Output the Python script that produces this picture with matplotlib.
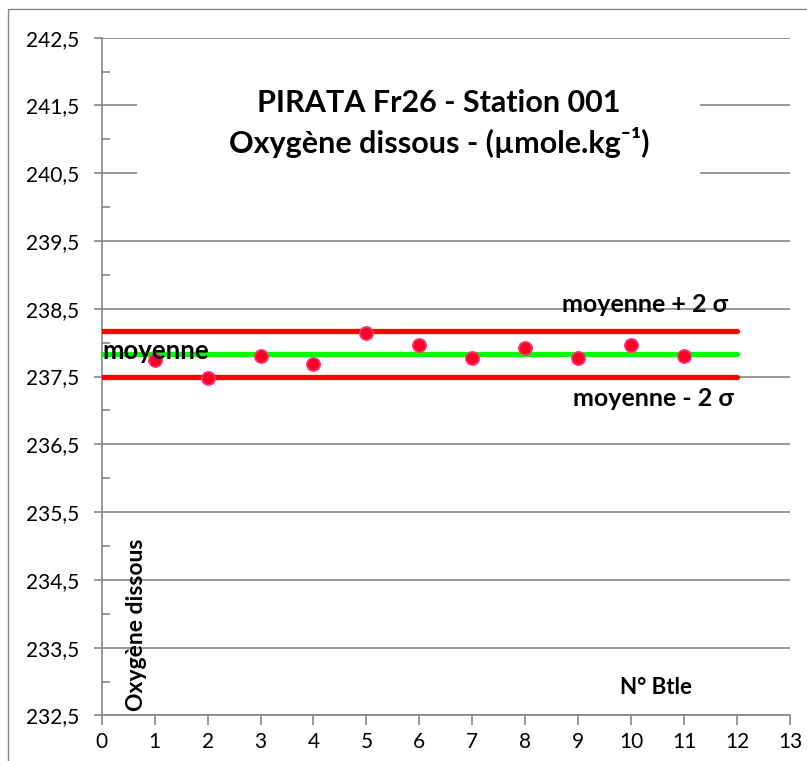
import matplotlib
matplotlib.use("Agg")
import matplotlib.pyplot as plt
from matplotlib.patches import Rectangle

# valeurs
btle = [1, 2, 3, 4, 5, 6, 7, 8, 9, 10, 11]
oxygene = [237.75, 237.48, 237.81, 237.69, 238.14, 237.96, 237.78, 237.92, 237.78, 237.96, 237.80]
moyenne = 237.83
plus_2s = 238.17
moins_2s = 237.49
x_lignes = [0, 12]

y_ticks = [232.5, 233.5, 234.5, 235.5, 236.5, 237.5, 238.5, 239.5, 240.5, 241.5, 242.5]
x_ticks = list(range(0, 14))

FAM = ['Lato', 'DejaVu Sans']
GRIS = '#868686'

fig = plt.figure(figsize=(8.07, 7.61), dpi=100)
ax = fig.add_axes([0.126, 0.0598, 0.9789 - 0.126, 0.9505 - 0.0598])

# cadre extérieur
fig.patches.append(Rectangle((8 / 807, -0.1), 1.2, (761 - 8.7) / 761 + 0.1,
                             transform=fig.transFigure, fill=False,
                             edgecolor=GRIS, linewidth=1.0))

ax.set_xlim(0, 13)
ax.set_ylim(232.5, 242.5)
ax.set_xticks(x_ticks)
ax.set_yticks(y_ticks)
ax.set_yticks([v + 0.5 for v in y_ticks[:-1]], minor=True)
ax.set_xticklabels([str(v) for v in x_ticks], family=FAM, fontsize=15)
ax.set_yticklabels([f"{v:.1f}".replace('.', ',') for v in y_ticks], family=FAM, fontsize=15)

ax.tick_params(axis='y', which='major', direction='out', length=6, width=1.2, color=GRIS, pad=10)
ax.tick_params(axis='y', which='minor', direction='in', length=6, width=1.2, color=GRIS)
ax.tick_params(axis='x', which='major', direction='out', length=7, width=1.2, color=GRIS, pad=5)

ax.grid(axis='y', which='major', color=GRIS, linewidth=1.2)
ax.set_axisbelow(True)
for s in ['top', 'right']:
    ax.spines[s].set_visible(False)
for s in ['left', 'bottom']:
    ax.spines[s].set_color(GRIS)
    ax.spines[s].set_linewidth(1.2)

# fond blanc du titre
ax.add_patch(Rectangle((0.67, 240.2), 11.3 - 0.67, 2.0, facecolor='white',
                       edgecolor='none', zorder=1.5))

ax.plot(x_lignes, [plus_2s, plus_2s], color='#FF0000', linewidth=3.8, solid_capstyle='round', zorder=3)
ax.plot(x_lignes, [moins_2s, moins_2s], color='#FF0000', linewidth=3.8, solid_capstyle='round', zorder=3)
ax.plot(x_lignes, [moyenne, moyenne], color='#00FF00', linewidth=3.8, solid_capstyle='round', zorder=3)
ax.plot(btle, oxygene, linestyle='none', marker='o', markersize=9.5,
        markerfacecolor='#FF0022', markeredgecolor='#FF3380', markeredgewidth=1.2, zorder=4)

ax.text(6.37, 241.53, "PIRATA Fr26 - Station 001", ha='center', va='center',
        family=FAM, fontweight='bold', fontsize=22, zorder=5)
ax.text(6.37, 240.95, "Oxygène dissous - (µmole.kg⁻¹)", ha='center', va='center',
        family=FAM, fontweight='bold', fontsize=22, zorder=5)

ax.text(0.02, 237.757, "moyenne", ha='left', va='baseline',
        family=FAM, fontweight='bold', fontsize=18.5, zorder=5)
ax.text(10.26, 238.46, "moyenne + 2 σ", ha='center', va='baseline',
        family=['Lato', 'DejaVu Serif'], fontweight='bold', fontsize=18, zorder=5)
ax.text(10.43, 237.06, "moyenne - 2 σ", ha='center', va='baseline',
        family=['Lato', 'DejaVu Serif'], fontweight='bold', fontsize=18, zorder=5)

ax.text(10.47, 232.91, "N° Btle", ha='center', va='center',
        family=FAM, fontweight='bold', fontsize=16, zorder=5)
ax.text(0.65, 232.56, "Oxygène dissous", ha='center', va='bottom', rotation=90,
        family=FAM, fontweight='bold', fontsize=16.5, zorder=5)

fig.savefig("out.png", dpi=100)
